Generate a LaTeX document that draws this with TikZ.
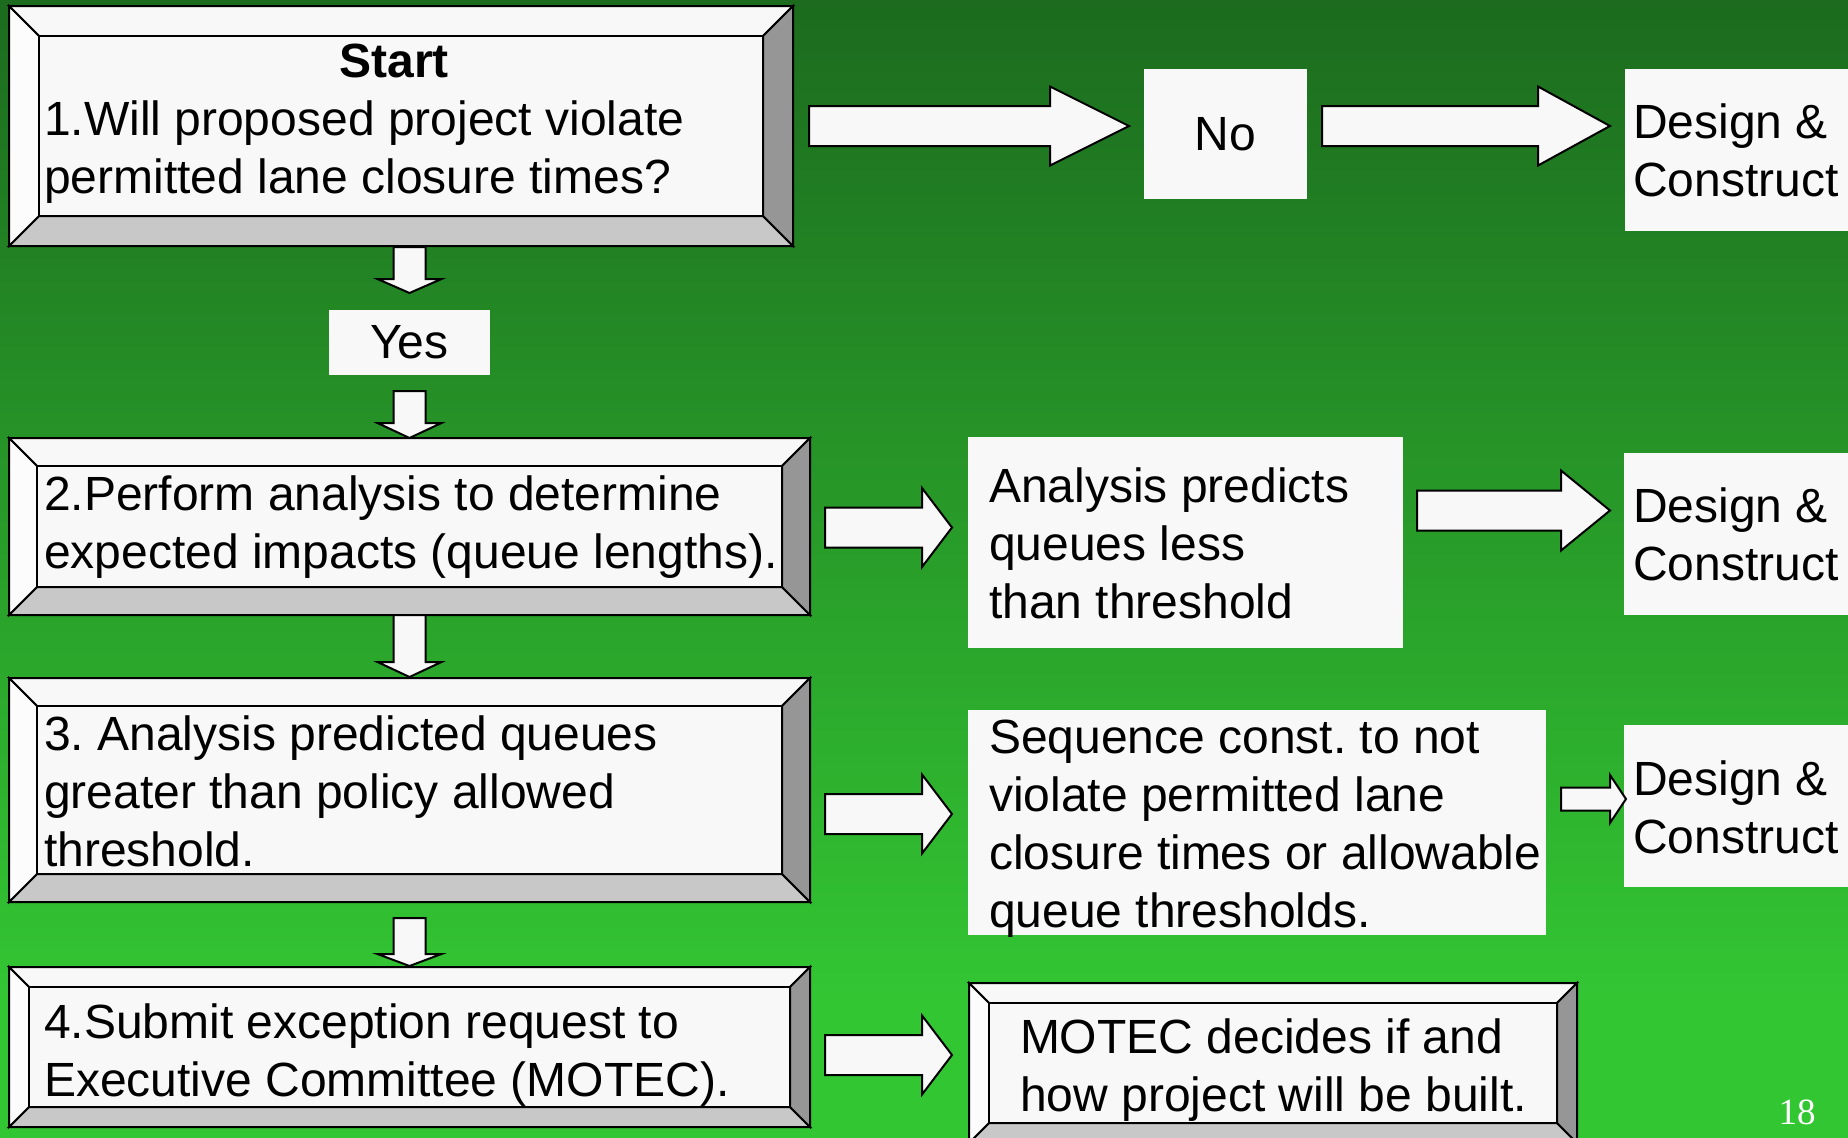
\documentclass[tikz,border=0pt]{standalone}
\usepackage{fontspec}
\setmainfont{Liberation Sans}
\newfontfamily\numfont{Liberation Serif}
\usetikzlibrary{calc}
\frenchspacing

\definecolor{bgtop}{RGB}{28,107,30}
\definecolor{bgbot}{RGB}{51,198,51}
\definecolor{face}{HTML}{F8F8F8}
\definecolor{bevT}{HTML}{F8F8F8}
\definecolor{bevL}{HTML}{FCFCFC}
\definecolor{bevR}{HTML}{969696}
\definecolor{bevB}{HTML}{C8C8C8}

% strut giving every first text line the same top
\newcommand\lnstrut{\rule{0pt}{38.4pt}}

\tikzset{
  frame/.style={rectangle, inner sep=0pt, outer sep=0pt},
  plainbox/.style={frame, fill=face},
  bevelface/.style={draw=black, line width=2pt, line join=miter},
  blk/.style={draw=black, fill=face, line width=2pt, line join=miter},
  lbl/.style={anchor=north west, inner sep=0pt, outer sep=0pt, align=left,
              font=\fontsize{48}{58}\selectfont},
  ctr/.style={font=\fontsize{48}{58}\selectfont},
}

% raised frame around a named node: #1 node, #2 bevel depth
\newcommand\bevel[2]{%
  \filldraw[bevelface,fill=bevT] let \p1=(#1.north west),\p2=(#1.south east) in
    (\x1,\y1) -- (\x2,\y1) -- (\x2-#2pt,\y1-#2pt) -- (\x1+#2pt,\y1-#2pt) -- cycle;
  \filldraw[bevelface,fill=bevB] let \p1=(#1.north west),\p2=(#1.south east) in
    (\x1,\y2) -- (\x2,\y2) -- (\x2-#2pt,\y2+#2pt) -- (\x1+#2pt,\y2+#2pt) -- cycle;
  \filldraw[bevelface,fill=bevL] let \p1=(#1.north west),\p2=(#1.south east) in
    (\x1,\y1) -- (\x1+#2pt,\y1-#2pt) -- (\x1+#2pt,\y2+#2pt) -- (\x1,\y2) -- cycle;
  \filldraw[bevelface,fill=bevR] let \p1=(#1.north west),\p2=(#1.south east) in
    (\x2,\y1) -- (\x2-#2pt,\y1-#2pt) -- (\x2-#2pt,\y2+#2pt) -- (\x2,\y2) -- cycle;
  \filldraw[bevelface,fill=face] let \p1=(#1.north west),\p2=(#1.south east) in
    (\x1+#2pt,\y1-#2pt) rectangle (\x2-#2pt,\y2+#2pt);
}

% block arrow pointing right: tail, tip, shaft half width, head half width, head length
\newcommand\rarrow[5]{%
  \filldraw[blk] let \p1=(#1),\p2=(#2) in
    (\x1,\y1+#3pt) -- (\x2-#5pt,\y1+#3pt) -- (\x2-#5pt,\y1+#4pt) -- (\x2,\y1)
    -- (\x2-#5pt,\y1-#4pt) -- (\x2-#5pt,\y1-#3pt) -- (\x1,\y1-#3pt) -- cycle;
}
% block arrow pointing down: tail, tip, shaft half width, head half width, head length
\newcommand\darrow[5]{%
  \filldraw[blk] let \p1=(#1),\p2=(#2) in
    (\x1-#3pt,\y1) -- (\x1-#3pt,\y2+#5pt) -- (\x1-#4pt,\y2+#5pt) -- (\x1,\y2)
    -- (\x1+#4pt,\y2+#5pt) -- (\x1+#3pt,\y2+#5pt) -- (\x1+#3pt,\y1) -- cycle;
}

\begin{document}
\begin{tikzpicture}[x=1pt,y=-1pt]
\useasboundingbox (0,0) rectangle (1848,1138);

% background
\shade[top color=bgtop, bottom color=bgbot] (0,0) rectangle (1848,1000);
\fill[bgbot] (0,999) rectangle (1848,1138);

% raised step boxes
\node[frame, minimum width=784pt, minimum height=240pt] (b1) at (401,126) {};
\node[frame, minimum width=801pt, minimum height=177pt] (b2) at (409.5,526.5) {};
\node[frame, minimum width=801pt, minimum height=224pt] (b3) at (409.5,790) {};
\node[frame, minimum width=801pt, minimum height=160pt] (b4) at (409.5,1047) {};
\node[frame, minimum width=608pt, minimum height=160pt] (mo) at (1273,1063) {};
\bevel{b1}{30}
\bevel{b2}{28}
\bevel{b3}{28}
\bevel{b4}{20}
\bevel{mo}{20}

% plain outcome boxes
\node[plainbox, ctr, minimum width=163pt, minimum height=130pt] (no) at (1225.5,134) {No};
\node[plainbox, ctr, minimum width=161pt, minimum height=65pt] (yes) at (409.5,342.5) {Yes};
\node[plainbox, minimum width=235pt, minimum height=162pt] (d1) at (1742.5,150) {};
\node[plainbox, minimum width=435pt, minimum height=211pt] (an) at (1185.5,542.5) {};
\node[plainbox, minimum width=236pt, minimum height=162pt] (d2) at (1742,534) {};
\node[plainbox, minimum width=578pt, minimum height=225pt] (sq) at (1257,822.5) {};
\node[plainbox, minimum width=236pt, minimum height=162pt] (d3) at (1742,806) {};

% arrow end points, taken from the boxes they join
\coordinate (a1s) at ($(b1.east)+(16,0)$);
\coordinate (a1e) at ($(no.west)+(-15,-8)$);
\coordinate (a2s) at ($(no.east)+(15,-8)$);
\coordinate (a2e) at ($(d1.west)+(-15,-24)$);
\coordinate (a3s) at ($(b2.east)+(15,1)$);
\coordinate (a3e) at ($(an.west)+(-16,-15)$);
\coordinate (a4s) at ($(an.east)+(14,-32)$);
\coordinate (a4e) at ($(d2.west)+(-14,-24)$);
\coordinate (a5s) at ($(b3.east)+(15,24)$);
\coordinate (a5e) at ($(sq.west)+(-16,-8.5)$);
\coordinate (a6s) at ($(sq.east)+(15,-23.5)$);
\coordinate (a6e) at ($(d3.west)+(2,-7)$);
\coordinate (a7s) at ($(b4.east)+(15,8)$);
\coordinate (a7e) at ($(mo.west)+(-17,-8)$);
\coordinate (d1s) at ($(b1.south)+(8.5,1)$);
\coordinate (d1e) at ($(yes.north)+(0,-17)$);
\coordinate (d2s) at ($(yes.south)+(0,16)$);
\coordinate (d2e) at (b2.north);
\coordinate (d3s) at (b2.south);
\coordinate (d3e) at ($(b3.north)+(0,-1)$);
\coordinate (d4s) at ($(b3.south)+(0,16)$);
\coordinate (d4e) at ($(b4.north)+(0,-1)$);

% block arrows
\rarrow{a1s}{a1e}{20}{39.5}{79}
\rarrow{a2s}{a2e}{20}{39.5}{72}
\rarrow{a3s}{a3e}{20}{39.5}{30}
\rarrow{a4s}{a4e}{20}{40}{49}
\rarrow{a5s}{a5e}{20}{39.5}{30}
\rarrow{a6s}{a6e}{11.5}{24}{16}
\rarrow{a7s}{a7e}{20}{39.5}{30}
\darrow{d1s}{d1e}{16}{32}{14}
\darrow{d2s}{d2e}{16}{32}{15}
\darrow{d3s}{d3e}{16}{32}{15}
\darrow{d4s}{d4e}{16}{32}{12}

% texts
\node[anchor=base, inner sep=0pt, font=\fontsize{48}{58}\selectfont\bfseries] (ts) at (394,77) {Start};
\node[lbl] (t1) at (44,96.6) {\lnstrut 1.Will proposed project violate\\permitted lane closure times?};
\node[lbl] (t2) at (44,471.6) {\lnstrut 2.Perform analysis to determine\\expected impacts (queue lengths).};
\node[lbl] (t3) at (44,711.6) {\lnstrut 3. Analysis predicted queues\\greater than policy allowed\\threshold.};
\node[lbl] (t4) at (44,999.6) {\lnstrut 4.Submit exception request to\\Executive Committee (MOTEC).};
\node[lbl] (tan) at (989,463.6) {\lnstrut Analysis predicts\\queues less\\than threshold};
\node[lbl] (tsq) at (989,714.6) {\lnstrut Sequence const. to not\\violate permitted lane\\closure times or allowable\\queue thresholds.};
\node[lbl] (td1) at (1633,99.6) {\lnstrut Design \&\\Construct};
\node[lbl] (td2) at (1633,483.6) {\lnstrut Design \&\\Construct};
\node[lbl] (td3) at (1633,756.6) {\lnstrut Design \&\\Construct};
\node[lbl] (tmo) at (1020,1014.6) {\lnstrut MOTEC decides if and\\how project will be built.};
\node[anchor=base, inner sep=0pt, text=white, font=\numfont\fontsize{37}{44}\selectfont] (pg) at (1797,1124) {18};
\end{tikzpicture}
\end{document}
